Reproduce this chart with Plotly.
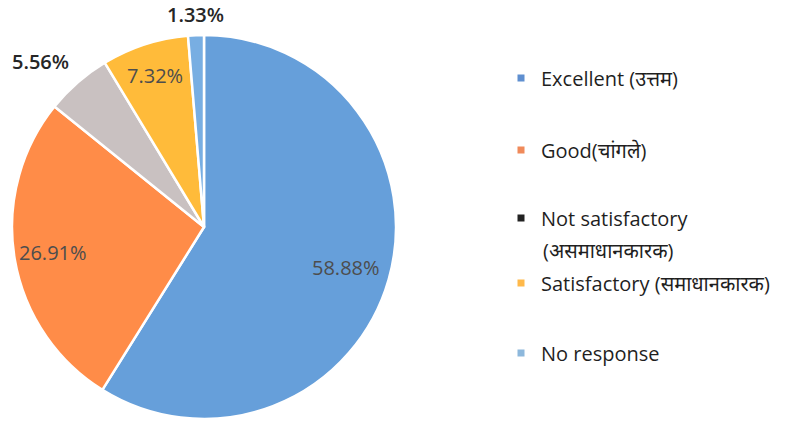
import math
import plotly.graph_objects as go

categories = ["Excellent (उत्तम)", "Good(चांगले)", "Not satisfactory<br>(असमाधानकारक)",
              "Satisfactory (समाधानकारक)", "No response"]
values = [58.88, 26.91, 5.56, 7.32, 1.33]
pct_labels = ["58.88%", "26.91%", "5.56%", "7.32%", "1.33%"]
slice_colors = ["#669FDA", "#FF8C48", "#C9C1C1", "#FFBB3A", "#78AEE2"]
legend_marker_colors = ["#5F8FD0", "#F08A5A", "#222222", "#FFB94A", "#8DB8DC"]
label_inside = [True, True, False, True, False]
label_radius = [0.77, 0.80, 1.21, 0.83, 1.11]
label_angle_nudge = [0, 0, -3.5, 0, 0]  # degrees

W, H = 808, 430
cx, cy, r = 204, 227, 192
FONT = "Open Sans, Noto Sans, sans-serif"

fig = go.Figure()
fig.add_trace(go.Pie(
    labels=categories, values=values, sort=False, direction="clockwise", rotation=0,
    textinfo="none",
    marker=dict(colors=slice_colors, line=dict(color="white", width=2.5)),
    showlegend=False, automargin=False,
    domain=dict(x=[(cx - r) / W, (cx + r) / W], y=[(H - cy - r) / H, (H - cy + r) / H]),
))

# data labels placed at each slice's mid-angle
total = sum(values)
cum = 0.0
for v, lab, inside, f, nudge in zip(values, pct_labels, label_inside, label_radius, label_angle_nudge):
    theta = 2 * math.pi * (cum + v / 2) / total + math.radians(nudge)
    cum += v
    px = cx + f * r * math.sin(theta)
    py = cy - f * r * math.cos(theta)
    fig.add_annotation(
        x=px / W, y=1 - py / H, xref="paper", yref="paper", text=lab, showarrow=False,
        xanchor="center", yanchor="middle",
        font=dict(family=FONT, size=20,
                  color="#262626" if not inside else "#4d4d4d",
                  weight=600 if not inside else 400),
    )

legend_y_px = [78, 150, 218, 283, 353]
legend_x_px = 501
text_x_px = 541
line_gap_px = 32
layout_legends = {}
for i, (name, col) in enumerate(zip(categories, legend_marker_colors)):
    key = "legend" if i == 0 else f"legend{i+1}"
    lines = name.split("<br>")
    fig.add_trace(go.Scatter(
        x=[None], y=[None], mode="markers", name=lines[0],
        marker=dict(symbol="square", size=7, color=col),
        legend=key, showlegend=True, hoverinfo="skip",
    ))
    layout_legends[key] = dict(
        x=legend_x_px / W, y=1 - legend_y_px[i] / H, xanchor="left", yanchor="middle",
        bgcolor="rgba(0,0,0,0)",
        font=dict(family=FONT, size=20, color="#1f1f1f"),
        itemwidth=30, valign="middle",
    )
    for j, extra in enumerate(lines[1:], start=1):
        fig.add_annotation(
            x=text_x_px / W, y=1 - (legend_y_px[i] + j * line_gap_px) / H,
            xref="paper", yref="paper", text=extra, showarrow=False,
            xanchor="left", yanchor="middle",
            font=dict(family=FONT, size=20, color="#1f1f1f"),
        )

fig.update_layout(
    width=W, height=H, margin=dict(l=0, r=0, t=0, b=0),
    paper_bgcolor="white", plot_bgcolor="white",
    xaxis=dict(visible=False), yaxis=dict(visible=False),
    **layout_legends,
)
fig.write_html("out.html", config={"displayModeBar": False},
               post_script="document.body.style.margin='0';")
